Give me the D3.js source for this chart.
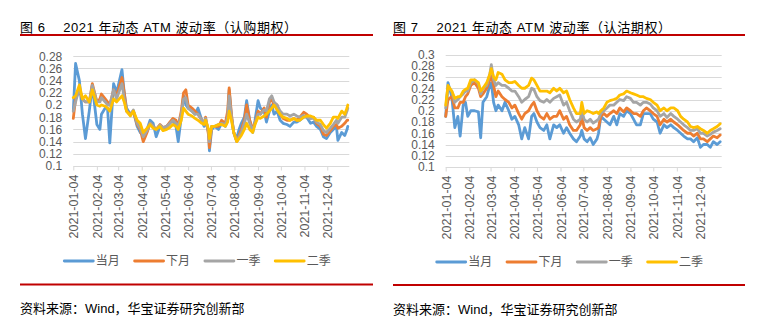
<!DOCTYPE html>
<html><head><meta charset="utf-8">
<script src="https://cdn.jsdelivr.net/npm/d3@7"></script>
<style>
html,body{margin:0;padding:0;background:#fff;}
svg{display:block;}
text{font-family:"Liberation Sans","Noto Sans CJK SC",Arial,sans-serif;}
</style></head>
<body>
<svg id="c" width="758" height="327"></svg>
<script>
// ---------- DATA ----------
const seriesNames = ["当月", "下月", "一季", "二季"];
const seriesColors = ["#5b9bd5", "#ed7d31", "#a5a5a5", "#ffc000"];
const xTickLabels = ["2021-01-04","2021-02-04","2021-03-04","2021-04-04","2021-05-04","2021-06-04",
  "2021-07-04","2021-08-04","2021-09-04","2021-10-04","2021-11-04","2021-12-04"];
const yTicksCall = [0.1,0.12,0.14,0.16,0.18,0.2,0.22,0.24,0.26,0.28];
const yTicksPut = [0.1,0.12,0.14,0.16,0.18,0.2,0.22,0.24,0.26,0.28,0.3];

// Figure 6 : call options
const callDates = ["01-04","01-07","01-12","01-16","01-20","01-25","01-29","02-04","02-08","02-10",
  "02-15","02-18","02-21","02-26","03-02","03-09","03-12","03-15","03-20","03-24",
  "03-29","04-02","04-06","04-11","04-15","04-19","04-23","04-28","05-02","05-07",
  "05-11","05-15","05-19","05-22","05-26","05-29","06-01","06-04","06-09","06-13",
  "06-17","06-22","06-25","06-27","07-01","07-02","07-05","07-09","07-14","07-18",
  "07-23","07-26","07-28","07-31","08-03","08-07","08-10","08-13","08-17","08-20",
  "08-24","08-28","08-31","09-04","09-07","09-12","09-15","09-19","09-22","09-25",
  "09-29","10-03","10-07","10-12","10-16","10-21","10-25","10-29","11-03","11-07",
  "11-12","11-16","11-20","11-25","11-29","12-03","12-08","12-12","12-16","12-18",
  "12-23","12-27","12-30","12-31"];
const callCur = [.19,.268,.24,.185,.145,.19,.232,.168,.16,.185,
  .195,.195,.138,.235,.22,.258,.22,.195,.185,.19,
  .165,.155,.15,.16,.175,.17,.148,.165,.16,.165,
  .17,.175,.165,.14,.18,.215,.2,.195,.19,.185,
  .195,.175,.165,.175,.155,.125,.16,.165,.16,.17,
  .165,.175,.225,.18,.155,.145,.16,.17,.18,.207,
  .175,.155,.175,.207,.195,.19,.172,.19,.2,.185,
  .19,.175,.17,.168,.165,.172,.172,.175,.18,.18,
  .17,.172,.165,.16,.148,.145,.155,.16,.165,.142,
  .155,.15,.16,.165];
const callNext = [.178,.21,.225,.21,.205,.205,.235,.205,.21,.218,
  .21,.205,.2,.225,.215,.245,.22,.19,.185,.19,
  .168,.16,.14,.155,.17,.165,.16,.168,.163,.165,
  .172,.178,.175,.165,.19,.22,.225,.2,.195,.19,
  .185,.175,.17,.18,.15,.13,.165,.165,.165,.175,
  .17,.19,.228,.185,.155,.14,.15,.16,.175,.2,
  .175,.16,.17,.19,.185,.195,.18,.205,.21,.2,
  .2,.185,.178,.175,.175,.178,.175,.18,.188,.185,
  .178,.18,.17,.165,.152,.15,.158,.165,.168,.162,
  .165,.17,.175,.175];
const callQ1 = [.19,.205,.228,.21,.205,.205,.232,.205,.205,.212,
  .205,.2,.2,.225,.21,.235,.21,.19,.183,.192,
  .17,.162,.148,.158,.17,.165,.16,.167,.163,.165,
  .17,.175,.17,.165,.185,.21,.212,.195,.19,.185,
  .185,.175,.172,.178,.155,.14,.165,.165,.168,.17,
  .168,.18,.215,.18,.155,.14,.148,.155,.17,.185,
  .17,.158,.17,.185,.185,.192,.19,.21,.215,.205,
  .2,.19,.185,.185,.182,.185,.182,.18,.183,.18,
  .178,.178,.172,.168,.158,.155,.162,.168,.175,.17,
  .18,.18,.19,.195];
const callQ2 = [.212,.215,.233,.21,.215,.205,.225,.2,.198,.2,
  .198,.195,.19,.21,.205,.215,.205,.19,.182,.19,
  .175,.17,.155,.162,.168,.162,.16,.165,.158,.16,
  .163,.168,.165,.16,.175,.195,.19,.185,.182,.178,
  .175,.17,.168,.175,.16,.145,.165,.165,.168,.168,
  .165,.172,.19,.175,.155,.14,.145,.15,.16,.17,
  .16,.155,.168,.18,.178,.182,.185,.19,.195,.2,
  .192,.185,.18,.178,.175,.178,.175,.175,.18,.182,
  .182,.18,.175,.175,.168,.162,.17,.18,.18,.178,
  .19,.185,.195,.2];

// Figure 7 : put options
const putDates = ["01-04","01-07","01-12","01-16","01-20","01-23","01-27","01-30","02-02","02-06",
  "02-11","02-16","02-19","02-22","02-27","03-03","03-05","03-08","03-11","03-14",
  "03-19","03-23","03-28","04-01","04-05","04-10","04-14","04-18","04-23","04-27",
  "04-30","05-04","05-08","05-13","05-17","05-21","05-26","05-30","06-03","06-08",
  "06-12","06-16","06-21","06-25","06-30","07-02","07-05","07-09","07-13","07-17",
  "07-22","07-24","07-27","07-31","08-04","08-08","08-13","08-17","08-21","08-26",
  "08-30","09-04","09-08","09-12","09-17","09-21","09-25","09-30","10-04","10-09",
  "10-13","10-18","10-22","10-27","10-31","11-05","11-09","11-13","11-18","11-22",
  "11-26","12-01","12-05","12-09","12-14","12-18","12-22","12-27","12-31"];
const putCur = [.19,.25,.225,.17,.19,.155,.21,.215,.19,.2,
  .2,.198,.152,.215,.225,.245,.25,.215,.2,.21,
  .2,.215,.2,.185,.19,.175,.15,.17,.15,.19,
  .195,.18,.17,.165,.175,.15,.175,.17,.175,.16,
  .17,.16,.15,.145,.155,.165,.15,.145,.152,.14,
  .15,.16,.19,.185,.18,.175,.19,.175,.195,.19,
  .2,.195,.185,.175,.175,.195,.195,.195,.185,.18,
  .16,.175,.17,.175,.17,.165,.16,.155,.15,.15,
  .145,.152,.135,.14,.14,.135,.145,.14,.145];
const putNext = [.19,.22,.225,.205,.205,.215,.215,.225,.23,.245,
  .25,.24,.225,.23,.24,.255,.262,.245,.225,.235,
  .225,.22,.215,.205,.21,.195,.185,.195,.2,.21,
  .215,.2,.19,.185,.195,.185,.19,.19,.2,.185,
  .19,.175,.165,.165,.175,.19,.17,.165,.17,.165,
  .168,.17,.19,.195,.19,.195,.2,.195,.205,.198,
  .205,.2,.195,.195,.19,.2,.205,.2,.195,.19,
  .175,.185,.18,.185,.18,.175,.17,.165,.16,.16,
  .155,.16,.15,.15,.145,.15,.155,.152,.157];
const putQ1 = [.205,.24,.235,.215,.22,.225,.23,.235,.235,.25,
  .255,.248,.23,.24,.245,.265,.282,.255,.245,.25,
  .245,.245,.24,.235,.235,.225,.215,.22,.225,.24,
  .238,.225,.218,.215,.22,.215,.222,.225,.228,.21,
  .215,.2,.185,.18,.185,.2,.185,.18,.185,.178,
  .183,.185,.195,.2,.205,.21,.21,.215,.22,.218,
  .225,.222,.215,.215,.21,.215,.215,.212,.205,.2,
  .19,.195,.188,.195,.19,.185,.18,.175,.17,.165,
  .165,.168,.16,.16,.155,.158,.162,.165,.168];
const putQ2 = [.21,.245,.235,.222,.225,.225,.235,.238,.24,.255,
  .255,.25,.235,.24,.25,.265,.275,.26,.255,.268,
  .265,.255,.25,.25,.252,.245,.24,.24,.245,.258,
  .255,.245,.235,.235,.235,.232,.24,.235,.24,.232,
  .235,.22,.205,.195,.195,.215,.195,.2,.198,.195,
  .198,.195,.2,.205,.215,.218,.22,.222,.228,.23,
  .235,.232,.23,.228,.225,.225,.222,.22,.215,.21,
  .2,.205,.2,.205,.205,.2,.19,.185,.18,.172,
  .17,.172,.168,.165,.16,.165,.168,.172,.177];

// ---------- DRAW ----------
const svg = d3.select("#c");
const parse = s => d3.timeParse("%Y-%m-%d")("2021-" + s);
const parseFull = d3.timeParse("%Y-%m-%d");

function drawChart(cfg) {
  const g = svg.append("g");
  // title
  g.append("text").attr("x", cfg.left).attr("y", 32)
    .attr("font-size", 13).attr("fill", "#000").style("white-space", "pre")
    .attr("textLength", cfg.titleLen).attr("lengthAdjust", "spacing")
    .text(cfg.title);
  g.append("line").attr("x1", cfg.left).attr("x2", cfg.right).attr("y1", 35).attr("y2", 35)
    .attr("stroke", "#c00000").attr("stroke-width", 2);
  g.append("line").attr("x1", cfg.left).attr("x2", cfg.right).attr("y1", cfg.ruleY).attr("y2", cfg.ruleY)
    .attr("stroke", "#c00000").attr("stroke-width", 2);
  g.append("text").attr("x", cfg.left).attr("y", cfg.srcY)
    .attr("font-size", 13).attr("fill", "#000")
    .text("资料来源：Wind，华宝证券研究创新部");

  const x = d3.scaleTime().domain([parseFull("2021-01-04"), parseFull("2022-01-02")])
    .range([cfg.pl, cfg.pr]);
  const y = d3.scaleLinear().domain([0.1, d3.max(cfg.yTicks)]).range([cfg.pb, cfg.pt]);

  // gridlines
  g.append("g").selectAll("line").data(cfg.yTicks.filter(v => v > 0.1)).join("line")
    .attr("x1", cfg.pl).attr("x2", cfg.pr)
    .attr("y1", d => Math.round(y(d)) + 0.5).attr("y2", d => Math.round(y(d)) + 0.5)
    .attr("stroke", "#d9d9d9").attr("stroke-width", 1);

  // y labels
  const ya = g.append("g").attr("transform", `translate(${cfg.pl},0)`)
    .call(d3.axisLeft(y).tickValues(cfg.yTicks).tickSize(0).tickPadding(11)
      .tickFormat(v => String(+v.toFixed(2))));
  ya.select(".domain").remove();
  ya.selectAll("text").attr("font-size", 12).attr("fill", "#595959")
    .attr("font-family", "Liberation Sans, Arial, sans-serif");

  // x axis
  const xa = g.append("g").attr("transform", `translate(0,${Math.round(cfg.pb) + 0.5})`)
    .call(d3.axisBottom(x).tickValues(xTickLabels.map(parseFull)).tickSize(4).tickSizeOuter(0)
      .tickFormat(d3.timeFormat("%Y-%m-%d")));
  xa.select(".domain").attr("stroke", "#d9d9d9").attr("d", `M${cfg.pl},0H${cfg.pr}`);
  xa.selectAll(".tick line").attr("stroke", "#d9d9d9");
  xa.selectAll("text").attr("font-size", 12.5).attr("fill", "#595959")
    .attr("font-family", "Liberation Sans, Arial, sans-serif")
    .attr("transform", "rotate(-90)").attr("text-anchor", "end")
    .attr("x", -8).attr("y", 0).attr("dy", "0.36em");

  // lines
  const line = d3.line().x(d => x(d.date)).y(d => y(d.v)).curve(d3.curveLinear);
  cfg.series.forEach((vals, i) => {
    const data = cfg.dates.map((d, k) => ({date: parse(d), v: vals[k]}));
    g.append("path").datum(data).attr("d", line)
      .attr("fill", "none").attr("stroke", seriesColors[i]).attr("stroke-width", 2.8)
      .attr("stroke-linejoin", "round").attr("stroke-linecap", "round");
  });

  // legend
  const lg = g.append("g").attr("transform", `translate(${cfg.pl - 9},${cfg.legY})`);
  seriesNames.forEach((n, i) => {
    const it = lg.append("g").attr("transform", `translate(${i * 70.3},0)`);
    it.append("line").attr("x1", 0).attr("x2", 29).attr("y1", 0).attr("y2", 0)
      .attr("stroke", seriesColors[i]).attr("stroke-width", 2.8).attr("stroke-linecap", "round");
    it.append("text").attr("x", 31.5).attr("y", 0).attr("dy", "0.36em")
      .attr("font-size", 12).attr("fill", "#595959").text(n);
  });
}

drawChart({
  title: "图 6\u3000 2021 年动态 ATM 波动率（认购期权）", titleLen: 277,
  left: 20, right: 373, pl: 73.3, pr: 349.3, pt: 56.2, pb: 166,
  yTicks: yTicksCall, dates: callDates, series: [callCur, callNext, callQ1, callQ2],
  legY: 261, ruleY: 284.5, srcY: 313
});
drawChart({
  title: "图 7\u3000 2021 年动态 ATM 波动率（认沽期权）", titleLen: 278,
  left: 393, right: 745, pl: 445.7, pr: 721.7, pt: 54.5, pb: 167,
  yTicks: yTicksPut, dates: putDates, series: [putCur, putNext, putQ1, putQ2],
  legY: 262, ruleY: 285, srcY: 314
});
</script>
</body></html>
